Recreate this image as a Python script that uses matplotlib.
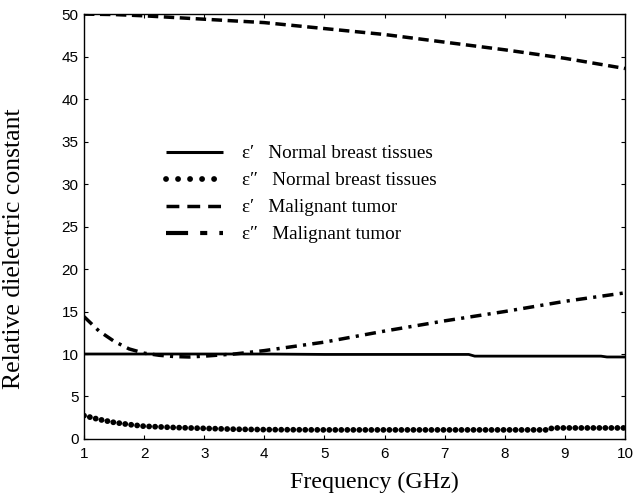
import matplotlib
matplotlib.use("Agg")
import matplotlib.pyplot as plt
from matplotlib.lines import Line2D

# ---- data ----
f_ep_norm = [1, 2, 3, 4, 5, 6, 7, 7.4, 7.5, 8, 9, 9.6, 9.7, 10]
ep_norm   = [10.0, 10.0, 10.0, 10.0, 9.95, 9.95, 9.95, 9.95, 9.75, 9.75, 9.75, 9.75, 9.65, 9.65]

f_epp_norm = [1, 1.25, 1.5, 1.75, 2, 2.5, 3, 3.5, 4, 5, 6, 7, 8, 8.7, 8.8, 9, 10]
epp_norm   = [2.75, 2.3, 1.95, 1.7, 1.5, 1.35, 1.25, 1.15, 1.1, 1.07, 1.07, 1.07, 1.07, 1.07, 1.3, 1.3, 1.3]

f_ep_mal = [1, 1.5, 2, 2.5, 3, 4, 5, 6, 7, 8, 9, 10]
ep_mal   = [50.0, 49.95, 49.8, 49.6, 49.4, 49.0, 48.3, 47.6, 46.7, 45.8, 44.8, 43.6]

f_epp_mal = [1, 1.25, 1.5, 1.75, 2, 2.25, 2.5, 2.75, 3, 3.5, 4, 4.5, 5, 6, 7, 8, 9, 10]
epp_mal   = [14.4, 12.7, 11.5, 10.6, 10.1, 9.85, 9.7, 9.65, 9.75, 10.0, 10.4, 10.9, 11.4, 12.7, 13.9, 15.0, 16.2, 17.2]

labels = ["\u03b5\u2032   Normal breast tissues",
          "\u03b5\u2033   Normal breast tissues",
          "\u03b5\u2032   Malignant tumor",
          "\u03b5\u2033   Malignant tumor"]
xticks = [1, 2, 3, 4, 5, 6, 7, 8, 9, 10]
yticks = [0, 5, 10, 15, 20, 25, 30, 35, 40, 45, 50]

fig = plt.figure(figsize=(6.34, 5.04), dpi=100)
ax = fig.add_axes([0.1325, 0.129, 0.8533, 0.843])

ax.plot(f_ep_norm, ep_norm, color="black", lw=2.0, solid_capstyle="butt")
ax.plot(f_epp_norm, epp_norm, color="black", lw=4.2,
        linestyle=(0, (0.01, 1.02)), dash_capstyle="round")
ax.plot(f_ep_mal, ep_mal, color="black", lw=2.5,
        linestyle=(0, (3.0, 1.6)), dash_capstyle="butt")
ax.plot(f_epp_mal, epp_mal, color="black", lw=2.5,
        linestyle=(0, (3.2, 1.8, 0.9, 1.8)), dash_capstyle="butt")

# legend proxy handles (style only)
h1 = Line2D([], [], color="black", lw=2.2, solid_capstyle="butt")
h2 = Line2D([], [], color="black", lw=4.2, linestyle=(0, (0.01, 2.05)),
            dash_capstyle="round")
h3 = Line2D([], [], color="black", lw=2.5, linestyle=(0, (3.7, 2.3)),
            dash_capstyle="butt")
h4 = Line2D([], [], color="black", lw=3.0, linestyle=(0, (5.3, 2.9, 1.7, 2.9)),
            dash_capstyle="butt")

ax.set_xlim(1, 10)
ax.set_ylim(0, 50)
ax.set_xticks(xticks)
ax.set_yticks(yticks)
ax.tick_params(direction="in", top=True, right=True, length=3, width=0.8,
               labelsize=11)
ax.tick_params(axis="x", pad=6)
ax.tick_params(axis="y", pad=4)
for lab in ax.get_xticklabels() + ax.get_yticklabels():
    lab.set_fontfamily("Liberation Sans")
for sp in ax.spines.values():
    sp.set_linewidth(1.0)

ax.set_xlabel("Frequency (GHz)", fontfamily="Liberation Serif", fontsize=17.3)
ax.set_ylabel("Relative dielectric constant", fontfamily="Liberation Serif", fontsize=18.5)
ax.xaxis.set_label_coords(0.536, -0.077)
ax.yaxis.set_label_coords(-0.109, 0.449)

leg = ax.legend([h1, h2, h3, h4], labels, loc="upper left",
                bbox_to_anchor=(0.119, 0.733), frameon=False,
                prop={"family": "Liberation Serif", "size": 13.8},
                handlelength=2.97, handletextpad=1.04, labelspacing=0.5)

fig.savefig("out.png", dpi=100)
